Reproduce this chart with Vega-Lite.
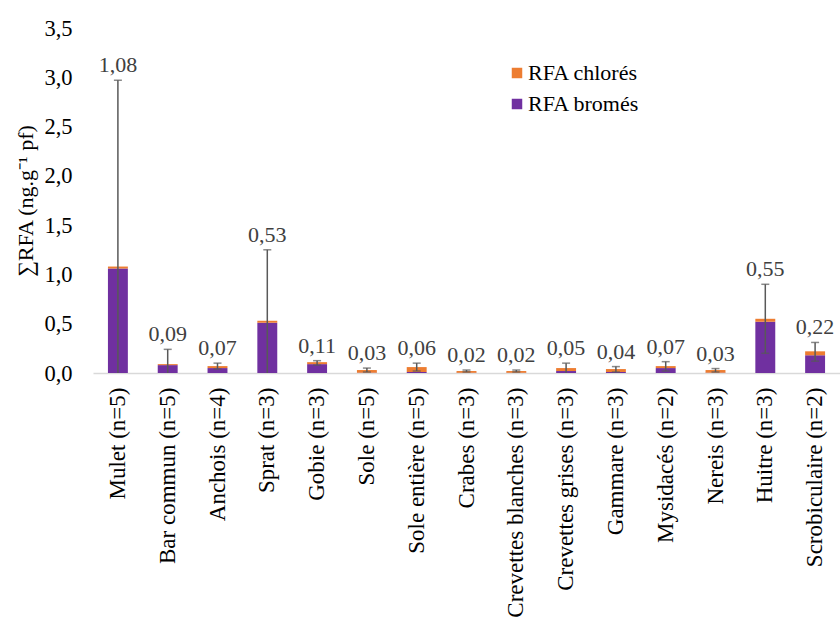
{
  "$schema": "https://vega.github.io/schema/vega-lite/v6.json",
  "width": 747,
  "height": 345,
  "autosize": {"type": "none"},
  "padding": {"left": 93, "top": 28, "right": 0, "bottom": 249},
  "background": "white",
  "config": {
    "view": {"stroke": null},
    "font": "Liberation Serif",
    "axis": {"labelFont": "Liberation Serif", "titleFont": "Liberation Serif"},
    "legend": {"labelFont": "Liberation Serif", "titleFont": "Liberation Serif"},
    "text": {"font": "Liberation Serif"},
    "locale": {"number": {"decimal": ",", "thousands": " ", "grouping": [3], "currency": ["", " €"]}}
  },
  "datasets": {
    "bars": [
      {"espece": "Mulet (n=5)", "type": "RFA bromés", "v": 1.06},
      {"espece": "Mulet (n=5)", "type": "RFA chlorés", "v": 0.02},
      {"espece": "Bar commun (n=5)", "type": "RFA bromés", "v": 0.08},
      {"espece": "Bar commun (n=5)", "type": "RFA chlorés", "v": 0.01},
      {"espece": "Anchois (n=4)", "type": "RFA bromés", "v": 0.05},
      {"espece": "Anchois (n=4)", "type": "RFA chlorés", "v": 0.02},
      {"espece": "Sprat (n=3)", "type": "RFA bromés", "v": 0.51},
      {"espece": "Sprat (n=3)", "type": "RFA chlorés", "v": 0.02},
      {"espece": "Gobie (n=3)", "type": "RFA bromés", "v": 0.09},
      {"espece": "Gobie (n=3)", "type": "RFA chlorés", "v": 0.02},
      {"espece": "Sole (n=5)", "type": "RFA bromés", "v": 0.003},
      {"espece": "Sole (n=5)", "type": "RFA chlorés", "v": 0.027},
      {"espece": "Sole entière (n=5)", "type": "RFA bromés", "v": 0.01},
      {"espece": "Sole entière (n=5)", "type": "RFA chlorés", "v": 0.05},
      {"espece": "Crabes (n=3)", "type": "RFA bromés", "v": 0.002},
      {"espece": "Crabes (n=3)", "type": "RFA chlorés", "v": 0.018},
      {"espece": "Crevettes blanches (n=3)", "type": "RFA bromés", "v": 0.002},
      {"espece": "Crevettes blanches (n=3)", "type": "RFA chlorés", "v": 0.018},
      {"espece": "Crevettes grises (n=3)", "type": "RFA bromés", "v": 0.02},
      {"espece": "Crevettes grises (n=3)", "type": "RFA chlorés", "v": 0.03},
      {"espece": "Gammare (n=3)", "type": "RFA bromés", "v": 0.01},
      {"espece": "Gammare (n=3)", "type": "RFA chlorés", "v": 0.03},
      {"espece": "Mysidacés (n=2)", "type": "RFA bromés", "v": 0.05},
      {"espece": "Mysidacés (n=2)", "type": "RFA chlorés", "v": 0.02},
      {"espece": "Nereis (n=3)", "type": "RFA bromés", "v": 0.003},
      {"espece": "Nereis (n=3)", "type": "RFA chlorés", "v": 0.027},
      {"espece": "Huitre (n=3)", "type": "RFA bromés", "v": 0.52},
      {"espece": "Huitre (n=3)", "type": "RFA chlorés", "v": 0.03},
      {"espece": "Scrobiculaire (n=2)", "type": "RFA bromés", "v": 0.18},
      {"espece": "Scrobiculaire (n=2)", "type": "RFA chlorés", "v": 0.04}
    ],
    "errs": [
      {"espece": "Mulet (n=5)", "total": 1.08, "lo": 0, "hi": 2.97, "locap": null},
      {"espece": "Bar commun (n=5)", "total": 0.09, "lo": 0, "hi": 0.24, "locap": null},
      {"espece": "Anchois (n=4)", "total": 0.07, "lo": 0.04, "hi": 0.10, "locap": 0.04},
      {"espece": "Sprat (n=3)", "total": 0.53, "lo": 0, "hi": 1.25, "locap": null},
      {"espece": "Gobie (n=3)", "total": 0.11, "lo": 0.08, "hi": 0.125, "locap": 0.08},
      {"espece": "Sole (n=5)", "total": 0.03, "lo": 0.01, "hi": 0.05, "locap": 0.01},
      {"espece": "Sole entière (n=5)", "total": 0.06, "lo": 0.02, "hi": 0.10, "locap": 0.02},
      {"espece": "Crabes (n=3)", "total": 0.02, "lo": 0.01, "hi": 0.03, "locap": 0.01},
      {"espece": "Crevettes blanches (n=3)", "total": 0.02, "lo": 0.01, "hi": 0.03, "locap": 0.01},
      {"espece": "Crevettes grises (n=3)", "total": 0.05, "lo": 0, "hi": 0.10, "locap": null},
      {"espece": "Gammare (n=3)", "total": 0.04, "lo": 0.01, "hi": 0.065, "locap": 0.01},
      {"espece": "Mysidacés (n=2)", "total": 0.07, "lo": 0.02, "hi": 0.115, "locap": 0.02},
      {"espece": "Nereis (n=3)", "total": 0.03, "lo": 0.01, "hi": 0.045, "locap": 0.01},
      {"espece": "Huitre (n=3)", "total": 0.55, "lo": 0.20, "hi": 0.90, "locap": 0.20},
      {"espece": "Scrobiculaire (n=2)", "total": 0.22, "lo": 0.12, "hi": 0.31, "locap": 0.12}
    ]
  },
  "encoding": {
    "x": {
      "field": "espece",
      "type": "nominal",
      "sort": ["Mulet (n=5)", "Bar commun (n=5)", "Anchois (n=4)", "Sprat (n=3)", "Gobie (n=3)", "Sole (n=5)", "Sole entière (n=5)", "Crabes (n=3)", "Crevettes blanches (n=3)", "Crevettes grises (n=3)", "Gammare (n=3)", "Mysidacés (n=2)", "Nereis (n=3)", "Huitre (n=3)", "Scrobiculaire (n=2)"],
      "scale": {"paddingInner": 0.6, "paddingOuter": 0.3},
      "axis": {
        "title": null,
        "labelAngle": -90,
        "labelFont": "Liberation Serif",
        "labelFontSize": 23,
        "labelColor": "#000000",
        "labelPadding": 14,
        "labelLimit": 400,
        "ticks": false,
        "domainColor": "#D9D9D9",
        "domainWidth": 1.5
      }
    }
  },
  "layer": [
    {
      "data": {"name": "bars"},
      "mark": {"type": "bar"},
      "encoding": {
        "y": {
          "field": "v",
          "type": "quantitative",
          "aggregate": "sum",
          "stack": "zero",
          "scale": {"domain": [0, 3.5], "nice": false},
          "axis": {
            "title": "∑RFA (ng.g⁻¹ pf)",
            "titleFont": "Liberation Serif",
            "titleFontSize": 22,
            "titleFontWeight": "normal",
            "titleColor": "#000000",
            "titlePadding": 6,
            "values": [0, 0.5, 1, 1.5, 2, 2.5, 3, 3.5],
            "format": ".1f",
            "labelFont": "Liberation Serif",
            "labelFontSize": 22.5,
            "labelColor": "#000000",
            "labelPadding": 21,
            "grid": false,
            "domain": false,
            "ticks": false
          }
        },
        "order": {"field": "type", "sort": "ascending"},
        "color": {
          "field": "type",
          "type": "nominal",
          "scale": {"domain": ["RFA chlorés", "RFA bromés"], "range": ["#ED7D31", "#7030A0"]},
          "legend": {
            "title": null,
            "orient": "none",
            "legendX": 413,
            "legendY": 34,
            "symbolType": "square",
            "symbolSize": 110,
            "symbolStrokeWidth": 0,
            "labelFont": "Liberation Serif",
            "labelFontSize": 22,
            "labelColor": "#000000",
            "rowPadding": 9,
            "labelOffset": 0
          }
        }
      }
    },
    {
      "data": {"name": "errs"},
      "mark": {"type": "rule", "color": "#595959", "strokeWidth": 1.5},
      "encoding": {
        "y": {"field": "lo", "type": "quantitative"},
        "y2": {"field": "hi"}
      }
    },
    {
      "data": {"name": "errs"},
      "mark": {"type": "tick", "color": "#595959", "thickness": 1.5, "size": 8, "orient": "horizontal"},
      "encoding": {
        "y": {"field": "hi", "type": "quantitative"}
      }
    },
    {
      "data": {"name": "errs"},
      "transform": [{"filter": "datum.locap != null"}],
      "mark": {"type": "tick", "color": "#595959", "thickness": 1.5, "size": 8, "orient": "horizontal"},
      "encoding": {
        "y": {"field": "locap", "type": "quantitative"}
      }
    },
    {
      "data": {"name": "errs"},
      "mark": {"type": "text", "font": "Liberation Serif", "fontSize": 22, "color": "#404040", "baseline": "middle", "dy": -15},
      "encoding": {
        "y": {"field": "hi", "type": "quantitative"},
        "text": {"field": "total", "type": "quantitative", "format": ".2f"}
      }
    }
  ]
}
